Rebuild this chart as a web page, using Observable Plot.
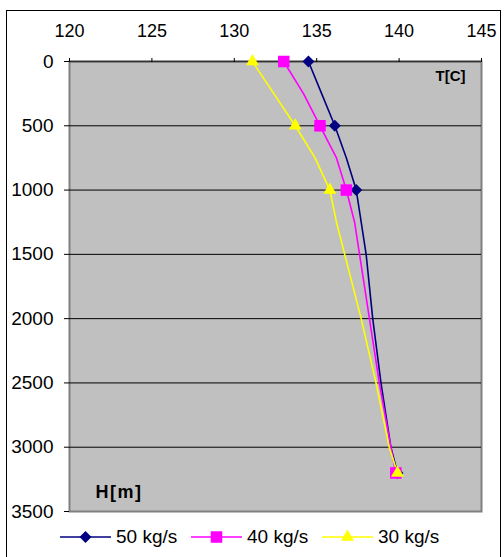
<!DOCTYPE html>
<html>
<head>
<meta charset="utf-8">
<script src="https://cdn.jsdelivr.net/npm/d3@7"></script>
<script src="https://cdn.jsdelivr.net/npm/@observablehq/plot@0.6"></script>
<style>
  html, body { margin: 0; padding: 0; background: #fff; }
  body { width: 504px; height: 557px; position: relative; overflow: hidden; font-family: "Liberation Sans", Arial, sans-serif; }
  #border { position: absolute; left: 6px; top: 10px; width: 495px; height: 560px; border: 1px solid #000; box-sizing: border-box; }
  #chart { position: absolute; left: 0; top: 0; }
  .leg { position: absolute; top: 528px; height: 18px; display: flex; align-items: center; font-size: 19px; color: #000; white-space: nowrap; }
  .leg svg { margin-right: 5px; }
</style>
</head>
<body>
<div id="border"></div>
<div id="chart"></div>
<div id="legend"></div>
<script>
// ---- data ----
const xTicks = [120, 125, 130, 135, 140, 145];
const yTicks = [0, 500, 1000, 1500, 2000, 2500, 3000, 3500];
const seriesNames = ["50 kg/s", "40 kg/s", "30 kg/s"];
const seriesColors = ["#000080", "#ff00ff", "#ffff00"];
const seriesSymbols = ["diamond2", "square", "triangle"];

const markerDepths = [0, 500, 1000, 3200];
const t50Markers = [134.5, 136.1, 137.4, 139.9];
const t40Markers = [133.0, 135.2, 136.8, 139.8];
const t30Markers = [131.1, 133.7, 135.8, 139.9];

const lineDepths = [0, 250, 500, 750, 1000, 1250, 1500, 2000, 2500, 3000, 3200];
const t50Line = [134.5, 135.3, 136.1, 136.8, 137.4, 137.7, 138.0, 138.4, 138.9, 139.5, 139.9];
const t40Line = [133.0, 134.2, 135.2, 136.2, 136.8, 137.3, 137.6, 138.2, 138.8, 139.5, 139.8];
const t30Line = [131.1, 132.4, 133.7, 134.9, 135.8, 136.2, 136.7, 137.7, 138.6, 139.4, 139.9];

// ---- tables ----
const lineSets = [t50Line, t40Line, t30Line];
const markerSets = [t50Markers, t40Markers, t30Markers];
const lines = lineSets.flatMap((arr, i) => arr.map((t, j) => ({series: seriesNames[i], t, h: lineDepths[j]})));
const markers = markerSets.flatMap((arr, i) => arr.map((t, j) => ({series: seriesNames[i], t, h: markerDepths[j]})));

const symR = {"diamond2": 5.4, "square": 6.5, "triangle": 4.8};

const marks = [
  Plot.frame({fill: "#c0c0c0", stroke: "#808080", strokeWidth: 2}),
  Plot.gridY(yTicks.filter(d => d > 0 && d < 3500), {stroke: "#000", strokeOpacity: 1, strokeWidth: 1}),
  Plot.ruleY([0], {stroke: "#333", strokeWidth: 1.5}),
  Plot.axisX(xTicks, {anchor: "top", tickSize: 4, tickPadding: 21, fontSize: 18, tickFormat: d => String(d), label: null, stroke: "#000"}),
  Plot.axisY(yTicks, {anchor: "left", tickSize: 5, tickPadding: 11, fontSize: 19, tickFormat: d => String(d), label: null, stroke: "#000"})
];
seriesNames.forEach((name, i) => {
  marks.push(Plot.line(lines.filter(d => d.series === name), {x: "t", y: "h", stroke: seriesColors[i], strokeWidth: 1.6, curve: "linear"}));
});
seriesNames.forEach((name, i) => {
  marks.push(Plot.dot(markers.filter(d => d.series === name), {x: "t", y: "h", fill: seriesColors[i], stroke: "none", symbol: seriesSymbols[i], r: symR[seriesSymbols[i]]}));
});
marks.push(Plot.text(["T[C]"], {frameAnchor: "top-right", textAnchor: "end", lineAnchor: "middle", dx: -16, dy: 15, fontSize: 15, fontWeight: "bold", fill: "#000"}));
marks.push(Plot.text(["H[m]"], {frameAnchor: "bottom-left", textAnchor: "start", lineAnchor: "middle", dx: 26, dy: -19, fontSize: 18, fontWeight: "bold", fill: "#000"}));

const chart = Plot.plot({
  width: 504,
  height: 515,
  marginLeft: 69,
  marginRight: 23,
  marginTop: 61,
  marginBottom: 4,
  style: {background: "transparent", fontFamily: "'Liberation Sans', Arial, sans-serif", color: "#000", overflow: "visible"},
  x: {domain: [120, 145]},
  y: {domain: [0, 3500], reverse: true},
  marks
});
d3.select(chart).selectAll("text").filter(function() { return this.textContent === "H[m]"; }).style("letter-spacing", "1.5px");
document.getElementById("chart").appendChild(chart);

// ---- legend ----
const legLefts = [60, 191, 322];
const legend = d3.select("#legend");
seriesNames.forEach((name, i) => {
  const item = legend.append("div").attr("class", "leg").style("left", legLefts[i] + "px");
  const s = item.append("svg").attr("width", 51).attr("height", 18);
  s.append("line").attr("x1", 0).attr("x2", 51).attr("y1", 9).attr("y2", 9).attr("stroke", seriesColors[i]).attr("stroke-width", 1.6);
  const sym = {diamond2: d3.symbolDiamond2, square: d3.symbolSquare, triangle: d3.symbolTriangle}[seriesSymbols[i]];
  const r = symR[seriesSymbols[i]];
  s.append("path").attr("d", d3.symbol(sym, Math.PI * r * r)()).attr("transform", "translate(25.5,9)").attr("fill", seriesColors[i]);
  item.append("span").text(name);
});
</script>
</body>
</html>
